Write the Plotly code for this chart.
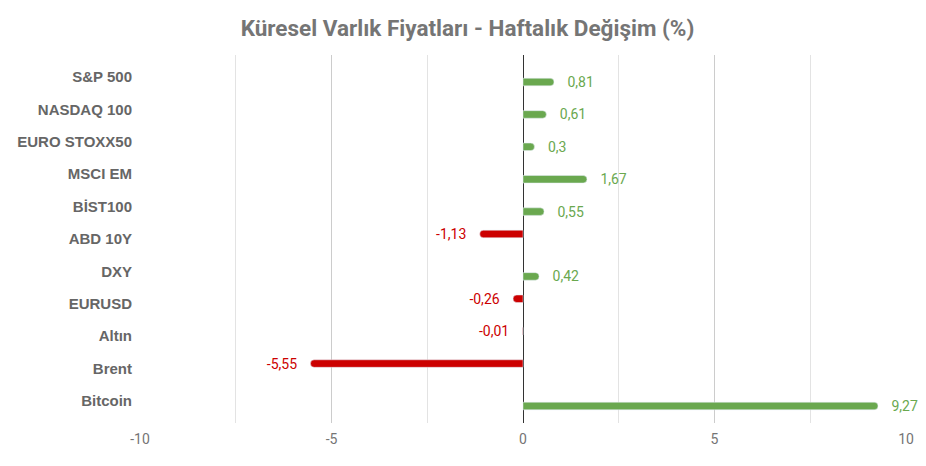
import plotly.graph_objects as go

# Weekly change (%) per asset
categories = ["S&P 500", "NASDAQ 100", "EURO STOXX50", "MSCI EM", "BİST100",
              "ABD 10Y", "DXY", "EURUSD", "Altın", "Brent", "Bitcoin"]
changes = [0.81, 0.61, 0.3, 1.67, 0.55, -1.13, 0.42, -0.26, -0.01, -5.55, 9.27]
x_ticks = [-10, -5, 0, 5, 10]
x_tick_labels = ["-10", "-5", "0", "5", "10"]

GREEN = "#6aa84f"
RED = "#cc0000"

pos_vals = [v if v >= 0 else None for v in changes]
neg_vals = [v if v < 0 else None for v in changes]


def fmt(v, pad_left):
    if v is None:
        return ""
    s = f"{v:g}".replace(".", ",")
    return ("   " + s) if pad_left else (s + "   ")


fig = go.Figure()

# negative series first (upper slot), positive second (lower slot)
fig.add_trace(go.Bar(
    y=categories, x=neg_vals, orientation="h",
    marker=dict(color=RED, cornerradius=4),
    text=[fmt(v, False) for v in neg_vals], textposition="outside",
    constraintext="none",
    textfont=dict(color=RED, size=14, family="Roboto"),
    cliponaxis=False, showlegend=False,
))
fig.add_trace(go.Bar(
    y=categories, x=pos_vals, orientation="h",
    marker=dict(color=GREEN, cornerradius=4),
    text=[fmt(v, True) for v in pos_vals], textposition="outside",
    constraintext="none",
    textfont=dict(color=GREEN, size=14, family="Roboto"),
    cliponaxis=False, showlegend=False,
))

# page body has an 8px margin, so the figure is sized to fit inside it
fig.update_layout(
    width=910, height=450,
    margin=dict(l=132, r=12, t=47, b=35),
    paper_bgcolor="white", plot_bgcolor="white",
    barmode="group", bargap=0.38, bargroupgap=0.25,
    font=dict(family="Roboto", color="#666666"),
    title=dict(text="<b>Küresel Varlık Fiyatları - Haftalık Değişim (%)</b>",
               x=0.505, xanchor="center", y=0.955, yanchor="middle",
               font=dict(size=22.5, color="#757575", family="Roboto")),
    xaxis=dict(
        range=[-10, 10], tickvals=x_ticks, ticktext=x_tick_labels,
        showgrid=True, gridcolor="#cccccc", gridwidth=1,
        minor=dict(dtick=2.5, showgrid=True, gridcolor="#e3e3e3"),
        zeroline=True, zerolinecolor="#333333", zerolinewidth=1,
        tickfont=dict(size=14, color="#757575"),
        ticks="", fixedrange=True, automargin=False, ticklabelstandoff=6,
    ),
    yaxis=dict(
        range=[10.68, -0.68], showgrid=False, zeroline=False,
        automargin=False,
        tickfont=dict(size=15, color="#666666", family="Liberation Sans"),
        tickprefix="<b>", ticksuffix="</b>", ticklabelstandoff=7,
    ),
)

fig.write_html("out.html")
